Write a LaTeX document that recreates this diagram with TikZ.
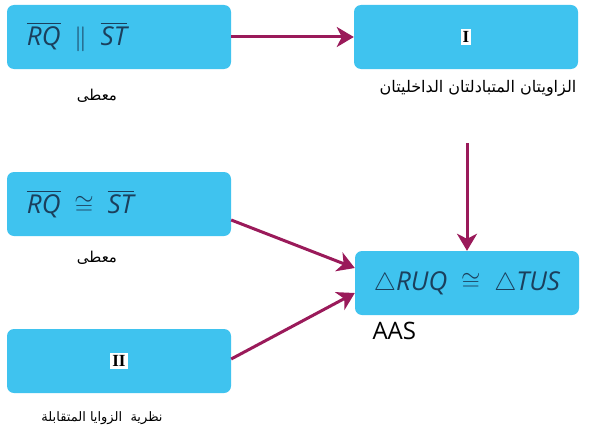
\documentclass[tikz,border=0pt]{standalone}
\usepackage{fontspec}
\usepackage{amsmath}
\usepackage{amssymb}
\setmainfont{Open Sans}
\newfontfamily\arabicfont[Script=Arabic]{DejaVu Sans}
\newfontfamily\romanfont{Liberation Serif}
\TeXXeTstate=1
\usetikzlibrary{arrows.meta}
\usetikzlibrary{positioning}

\definecolor{boxblue}{HTML}{3FC3EF}
\definecolor{inkblue}{HTML}{1B3F5C}
\definecolor{arrowred}{HTML}{9A1A5A}

\tikzset{
    stepbox/.style={fill=boxblue, rounded corners=7pt, minimum width=224pt, minimum height=64pt, text=inkblue, font=\fontsize{26}{30}\selectfont},
    leftbox/.style={stepbox, text width=184pt, inner xsep=20pt, align=left},
    numbox/.style={fill=white, inner sep=2pt, font=\romanfont\bfseries\fontsize{17}{18}\selectfont, text=black},
    reason/.style={font=\arabicfont\fontsize{13}{15}\selectfont},
    link/.style={draw=arrowred, line width=3pt, -{Stealth[length=17pt,width=20pt,inset=5pt]}}
}

\begin{document}
\begin{tikzpicture}[x=1pt,y=-1pt]
    \useasboundingbox (0,0) rectangle (591,436);

    % Draw the boxes
    \node[leftbox] (parallel) at (119,37) {$\overline{\textit{RQ}}\;\parallel\;\overline{\textit{ST}}$};
    \node[stepbox] (angles) at (466,37) {};
    \node[numbox] (one) at (466,37) {I};
    \node[leftbox] (segments) at (119,204) {$\overline{\textit{RQ}}\;\cong\;\overline{\textit{ST}}$};
    \node[stepbox] (vertical) at (119,361) {};
    \node[numbox] (two) at (119,361) {II};
    \node[stepbox] (result) at (467,283) {$\triangle\textit{RUQ}\;\cong\;\triangle\textit{TUS}$};

    % Reasons under the boxes
    \node[reason, font=\arabicfont\fontsize{15}{17}\selectfont] (given1) at (97,96) {\beginR معطى\endR};
    \node[reason, font=\arabicfont\fontsize{16}{18}\selectfont] (alt) at (478,88) {\beginR الزاويتان المتبادلتان الداخليتان\endR};
    \node[reason, font=\arabicfont\fontsize{15}{17}\selectfont] (given2) at (97,258) {\beginR معطى\endR};
    \node[reason] (vert) at (102,418) {\beginR نظرية~~الزوايا المتقابلة\endR};
    \node[anchor=west, text=black, font=\fontsize{24}{26}\selectfont] (aas) at (369,331) {AAS};

    % Arrows
    \coordinate (down) at (467,143);
    \draw[link] (parallel) -- (angles);
    \draw[link] (down) -- (result.north);
    \draw[link] ([yshift=-16pt]segments.east) -- ([yshift=15pt]result.west);
    \draw[link] ([yshift=2pt]vertical.east) -- ([yshift=-10pt]result.west);

\end{tikzpicture}
\end{document}
